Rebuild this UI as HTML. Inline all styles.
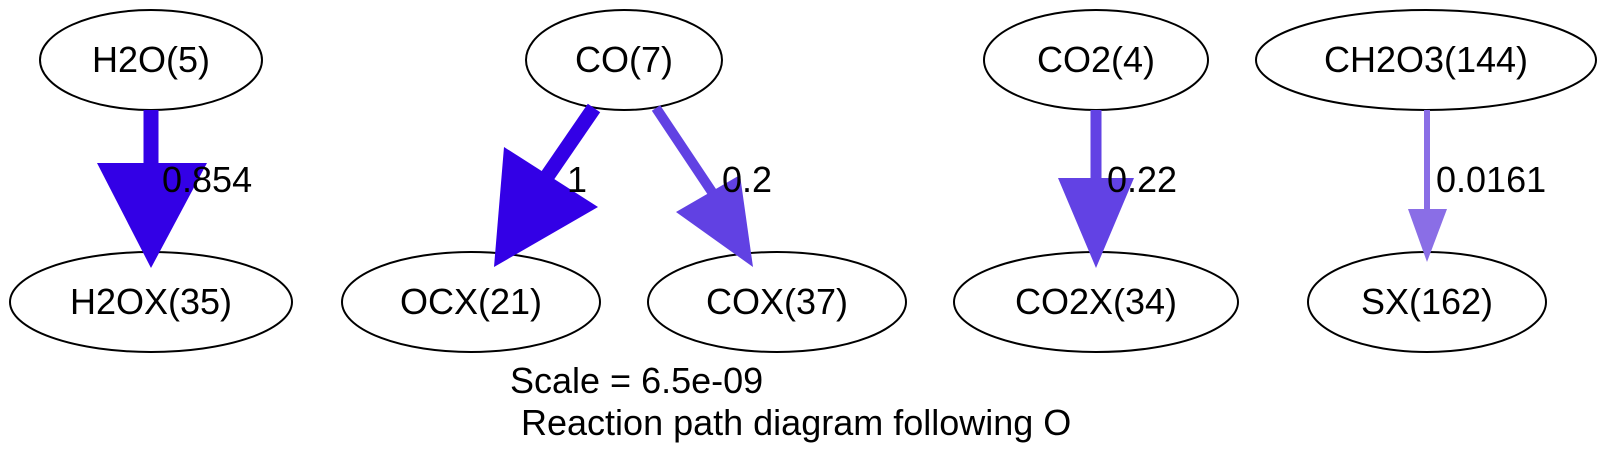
<!DOCTYPE html>
<html><head><meta charset="utf-8"><style>html,body{margin:0;padding:0;background:#fff}svg{display:block}</style></head>
<body>
<svg width="1608" height="469" viewBox="0 0 1608 469" xmlns="http://www.w3.org/2000/svg" font-family="Liberation Sans, sans-serif" font-size="36">
<g fill="none" stroke="#000" stroke-width="2">
<ellipse cx="151" cy="60" rx="111" ry="50"/>
<ellipse cx="151" cy="302" rx="141" ry="50"/>
<ellipse cx="624" cy="60" rx="98" ry="50"/>
<ellipse cx="471" cy="302" rx="129" ry="50"/>
<ellipse cx="777" cy="302" rx="129" ry="50"/>
<ellipse cx="1096" cy="60" rx="112" ry="50"/>
<ellipse cx="1096" cy="302" rx="142" ry="50"/>
<ellipse cx="1426" cy="60" rx="170" ry="50"/>
<ellipse cx="1427" cy="302" rx="119" ry="50"/>
</g>
<!-- edges -->
<line x1="151" y1="110" x2="151" y2="170" stroke="#3300e6" stroke-width="15"/>
<polygon points="97,163 207,163 151,268" fill="#3300e6"/>
<line x1="594" y1="108" x2="546" y2="178" stroke="#3300e6" stroke-width="15"/>
<polygon points="504,147 598,207 494,267" fill="#3300e6"/>
<line x1="656" y1="108" x2="712" y2="192" stroke="#6141e3" stroke-width="10"/>
<polygon points="676,212 740,175 753,267" fill="#6141e3"/>
<line x1="1096" y1="110" x2="1096" y2="185" stroke="#6242e4" stroke-width="11"/>
<polygon points="1058,178 1134,178 1096,268" fill="#6242e4"/>
<line x1="1427" y1="110" x2="1427" y2="212" stroke="#8a6ee6" stroke-width="6"/>
<polygon points="1408,209 1447,209 1427,262" fill="#8a6ee6"/>
<g text-anchor="middle">
<text x="151" y="72">H2O(5)</text>
<text x="151" y="314">H2OX(35)</text>
<text x="624" y="72">CO(7)</text>
<text x="471" y="314">OCX(21)</text>
<text x="777" y="314">COX(37)</text>
<text x="1096" y="72">CO2(4)</text>
<text x="1096" y="314">CO2X(34)</text>
<text x="1426" y="72">CH2O3(144)</text>
<text x="1427" y="314">SX(162)</text>
</g>
<text x="162" y="192">0.854</text>
<text x="567" y="192">1</text>
<text x="722" y="192">0.2</text>
<text x="1107" y="192">0.22</text>
<text x="1436" y="192">0.0161</text>
<text x="510" y="393">Scale = 6.5e-09</text>
<text x="521" y="435">Reaction path diagram following O</text>
</svg>
</body></html>
